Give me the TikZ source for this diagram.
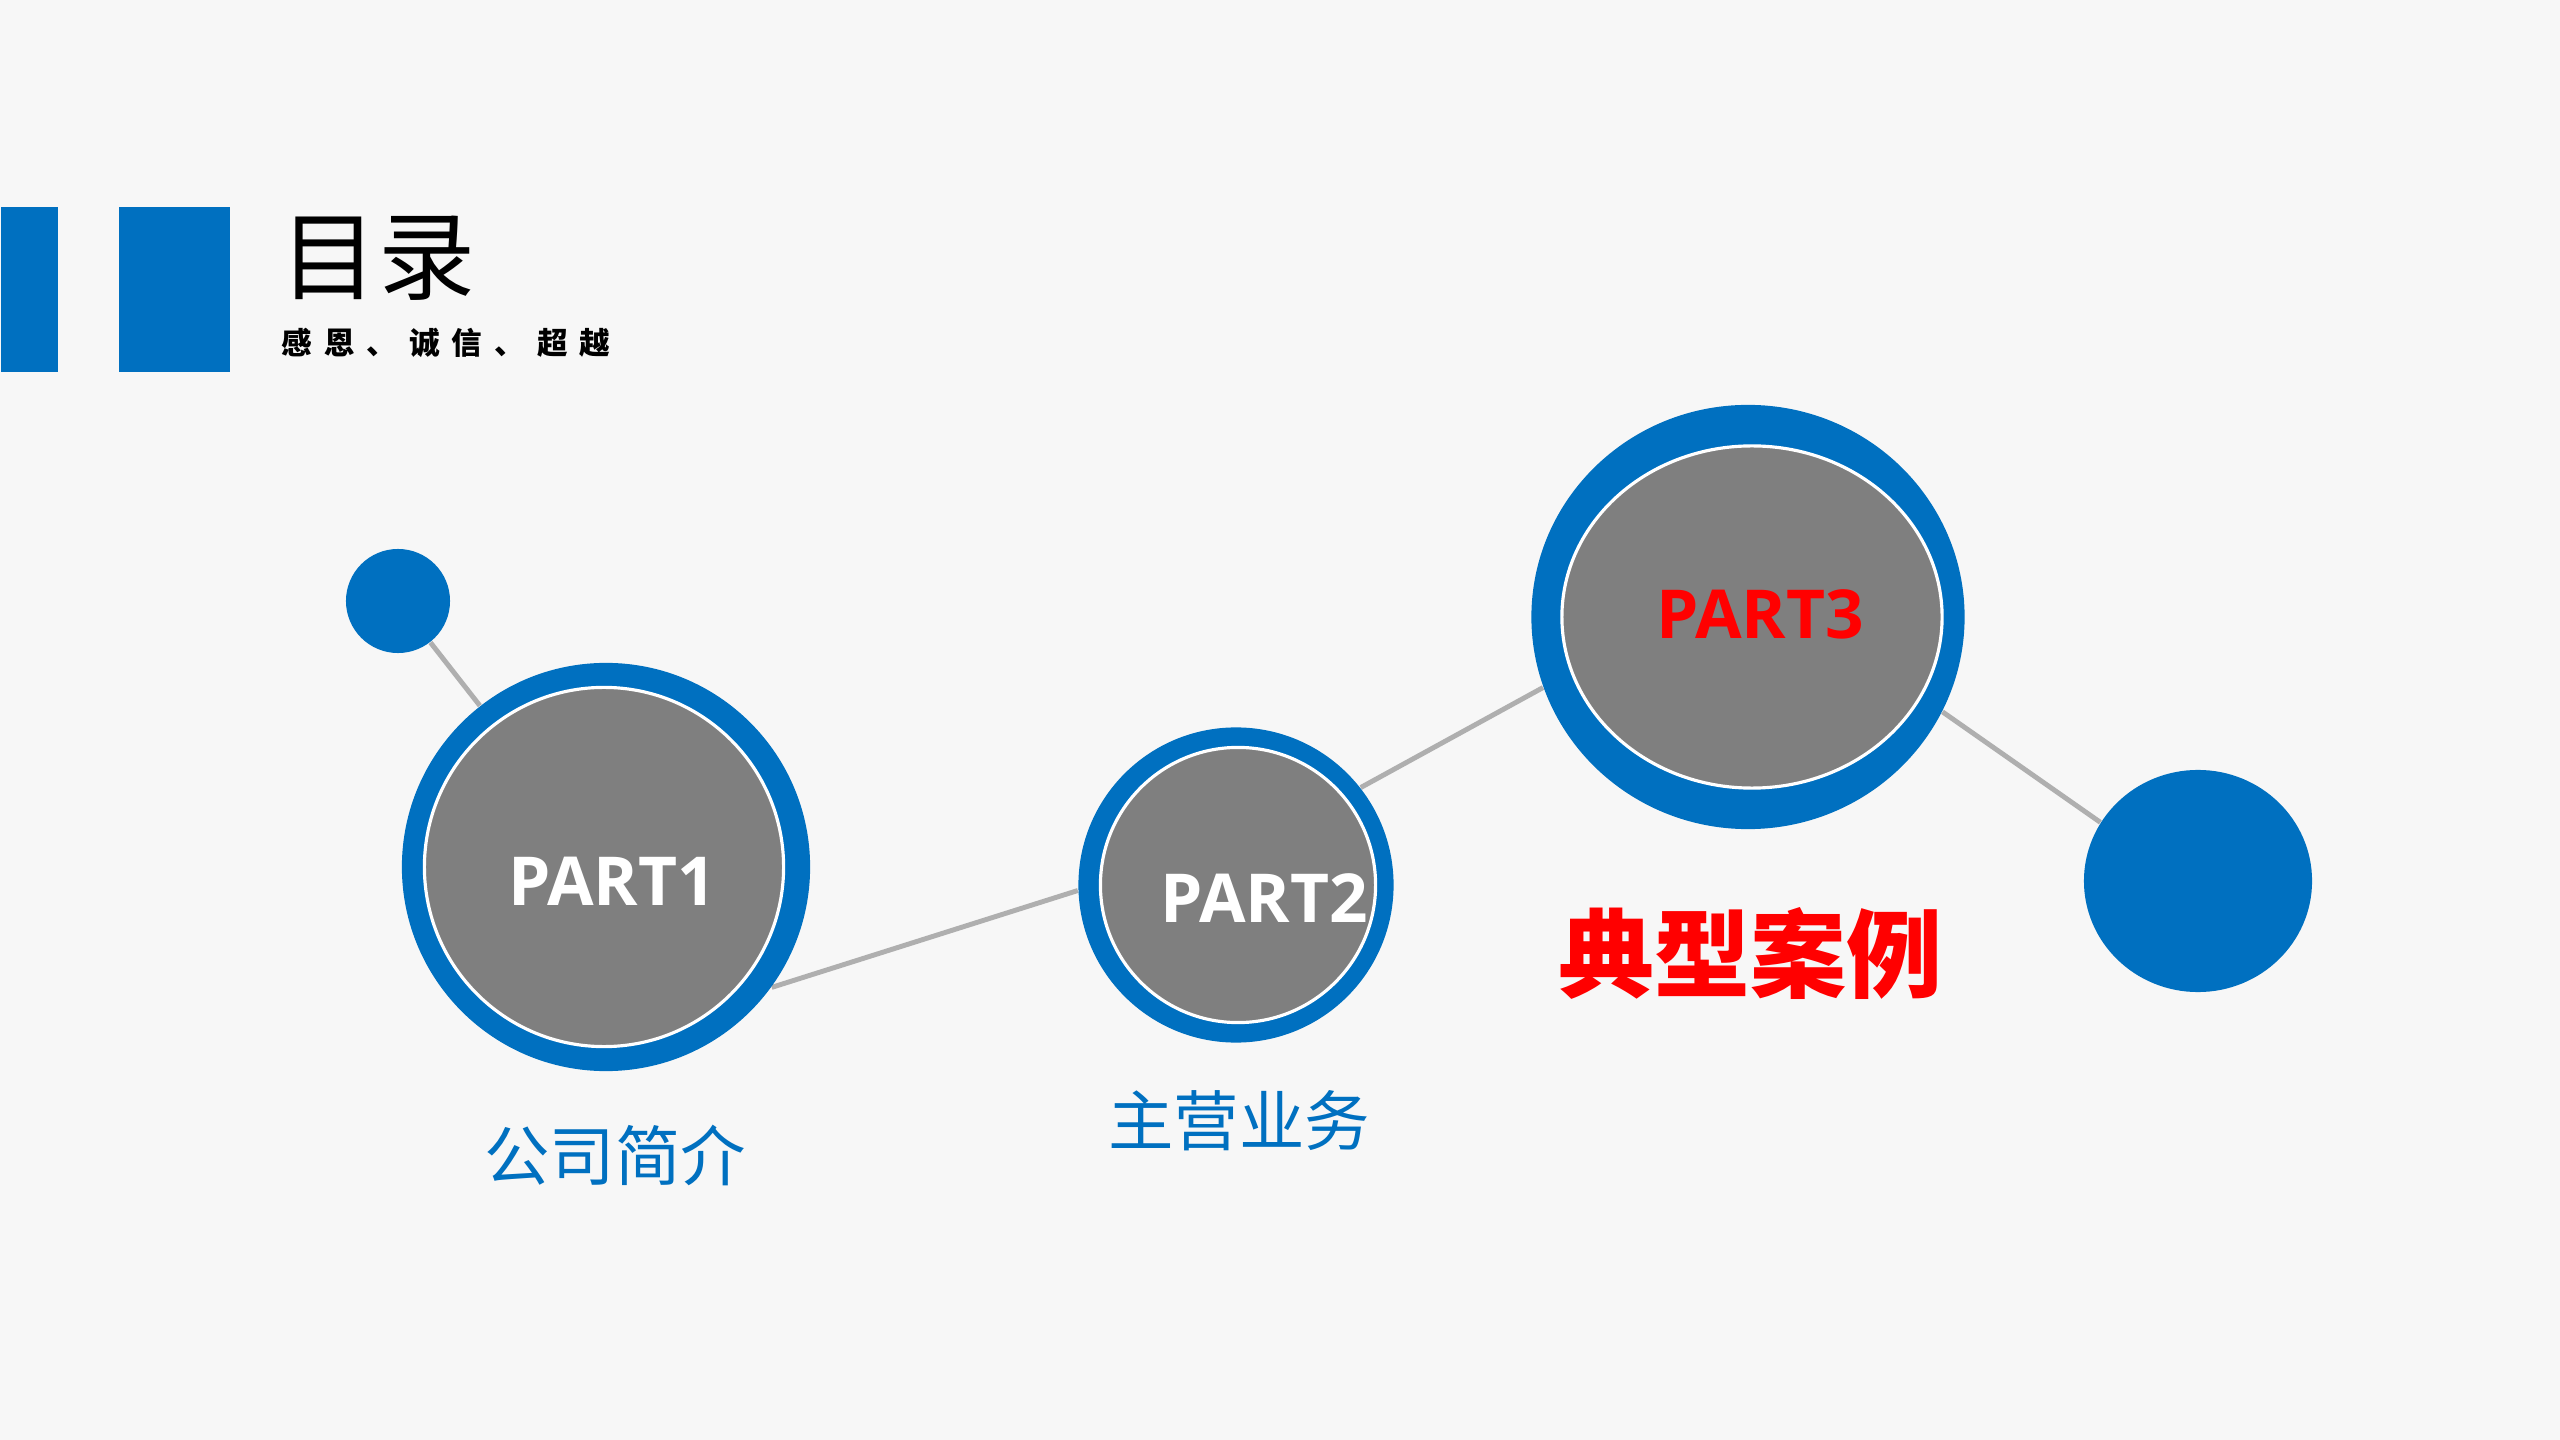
\documentclass[tikz,border=0pt]{standalone}
\usepackage{fontspec}
\setmainfont{Open Sans}
\newfontfamily\cjk{Noto Sans CJK SC}
\usetikzlibrary{shapes.geometric}
\definecolor{bgc}{HTML}{F7F7F7}
\definecolor{blu}{HTML}{0070C0}
\definecolor{gry}{HTML}{7F7F7F}
\definecolor{lin}{HTML}{AFAFAF}
\definecolor{redc}{HTML}{FF0000}
\pgfdeclarelayer{back}
\pgfdeclarelayer{links}
\pgfsetlayers{back,links,main}
\begin{document}
\begin{tikzpicture}[x=0.01cm,y=-0.01cm,
  link/.style={draw=lin,line width=1.4pt},
  ring/.style={circle,fill=blu,inner sep=0pt},
  ringe/.style={ellipse,fill=blu,inner sep=0pt},
  core/.style={circle,fill=gry,draw=white,line width=0.9pt,inner sep=0pt},
  coree/.style={ellipse,fill=gry,draw=white,line width=0.9pt,inner sep=0pt},
  bar/.style={fill=blu,inner sep=0pt,anchor=north west},
  parttext/.style={font=\fontsize{19.2pt}{22pt}\selectfont\bfseries,inner sep=0pt},
  cjklabel/.style={font=\cjk\fontsize{18.6pt}{22pt}\selectfont,text=blu,inner sep=0pt}
]
\begin{pgfonlayer}{back}
\fill[bgc] (0,0) rectangle (2560,1440);
\end{pgfonlayer}
\useasboundingbox (0,0) rectangle (2560,1440);

% header bars
\node[bar,minimum width=0.57cm,minimum height=1.65cm] (bar1) at (0,206) {};
\node[bar,minimum width=1.11cm,minimum height=1.65cm] (bar2) at (118,206) {};
\node[font=\cjk\fontsize{27.6pt}{32pt}\selectfont,inner sep=0pt] (title) at (378,258) {目录};
\node[font=\cjk\fontsize{8.7pt}{10pt}\selectfont\bfseries,inner sep=0pt] (sub) at (446,343)
  {感\kern3.4pt 恩\kern3.4pt 、\kern3.4pt 诚\kern3.4pt 信\kern3.4pt 、\kern3.4pt 超\kern3.4pt 越};

% small dot
\node[ring,minimum size=1.04cm] (s) at (398,601) {};

% PART1
\node[ring,minimum size=4.08cm] (p1o) at (606,867) {};
\node[core,minimum size=3.59cm] (p1i) at (604,867) {};
\node[parttext,text=white] (t1) at (612,881) {PART1};

% PART2
\node[ring,minimum size=3.15cm] (p2o) at (1236,885) {};
\node[core,minimum size=2.75cm] (p2i) at (1238,885) {};
\node[parttext,text=white] (t2) at (1264,898) {PART2};

% PART3
\node[ringe,minimum width=4.33cm,minimum height=4.24cm] (p3o) at (1748,617) {};
\node[coree,minimum width=3.80cm,minimum height=3.42cm] (p3i) at (1752,617) {};
\node[parttext,text=redc] (t3) at (1760,614) {PART3};

% big dot
\node[ellipse,fill=blu,inner sep=0pt,minimum width=2.28cm,minimum height=2.22cm] (big) at (2198,881) {};

% labels
\node[cjklabel] (l1) at (615,1155) {公司简介};
\node[cjklabel] (l2) at (1239,1121) {主营业务};
\node[font=\cjk\fontsize{27.3pt}{32pt}\selectfont\bfseries,text=redc,inner sep=0pt] (l3) at (1750,953) {典型案例};

% connectors
\begin{pgfonlayer}{links}
\draw[link] (s) -- (p1o);
\draw[link] (p1o.-36) -- (p2o.182);
\draw[link] (p2o.38) -- (p3o.199);
\draw[link] (p3o.-26) -- (big.149);
\end{pgfonlayer}
\end{tikzpicture}
\end{document}
